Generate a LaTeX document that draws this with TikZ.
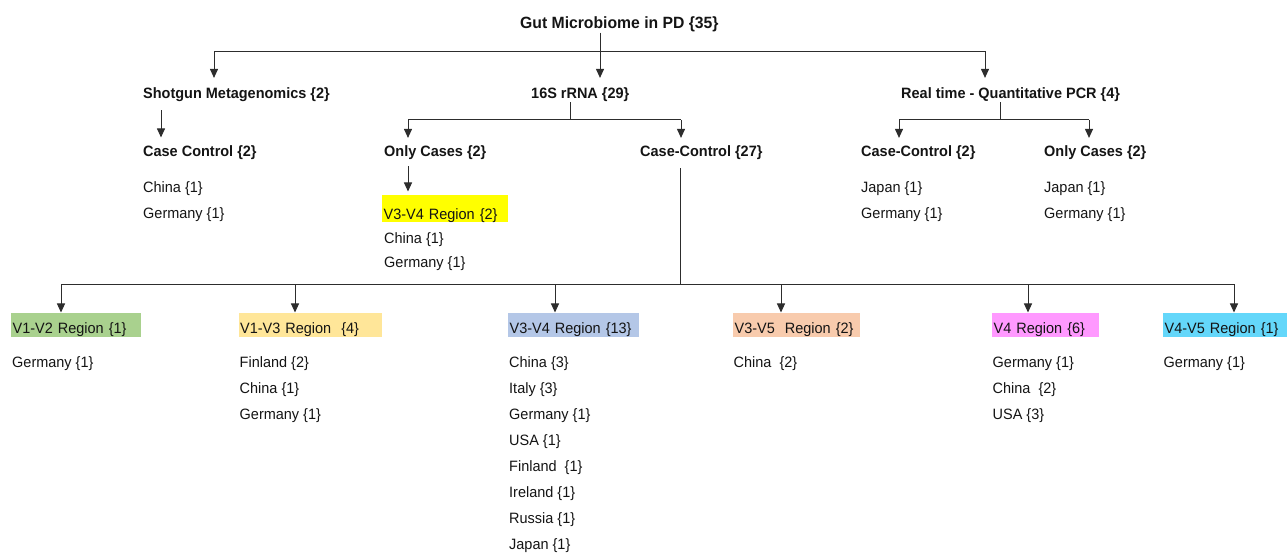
\documentclass[tikz,border=0pt]{standalone}
\usepackage{fontspec}
\setmainfont{Liberation Sans}[FakeStretch=0.965]
\usetikzlibrary{arrows.meta}
\definecolor{cGreen}{RGB}{169,209,142}
\definecolor{cGold}{RGB}{255,230,153}
\definecolor{cBlue}{RGB}{180,199,231}
\definecolor{cPeach}{RGB}{248,203,173}
\definecolor{cPink}{RGB}{255,153,255}
\definecolor{cCyan}{RGB}{100,215,250}
\definecolor{cYellow}{RGB}{255,255,0}
\definecolor{ink}{RGB}{20,20,20}
\definecolor{linec}{RGB}{45,45,45}
\begin{document}
\begin{tikzpicture}[x=1pt,y=-1pt,
  tx/.style={anchor=base west, inner sep=0pt, text=ink, font=\fontsize{15}{18}\selectfont},
  hd/.style={tx, font=\bfseries\fontsize{15}{18}\selectfont},
  ttl/.style={tx, font=\bfseries\fontsize{16.3}{18}\selectfont},
  regbox/.style={anchor=north west, inner xsep=1.5pt, inner ysep=0pt, text height=21pt, text depth=3pt, align=left, text=ink, font=\fontsize{15}{18}\selectfont},
  ln/.style={draw=linec, line width=1pt},
  arr/.style={ln, -{Triangle[length=9pt,width=8pt]}}
]
\useasboundingbox (0,0) rectangle (1288,553);

% ---- level 1
\node[ttl] (title) at (520,29) {Gut Microbiome in PD \{35\}};

% ---- level 2
\node[hd] (shot) at (143,99) {Shotgun Metagenomics \{2\}};
\node[hd] (s16) at (531,99) {16S rRNA \{29\}};
\node[hd] (rt) at (901,99) {Real time - Quantitative PCR \{4\}};

% ---- level 3
\node[hd] (scc) at (143,157) {Case Control \{2\}};
\node[hd] (oc) at (384,157) {Only Cases \{2\}};
\node[hd] (cc27) at (640,157) {Case-Control \{27\}};
\node[hd] (rcc) at (861,157) {Case-Control \{2\}};
\node[hd] (roc) at (1044,157) {Only Cases \{2\}};

\node[tx] (scc1) at (143,193) {China \{1\}};
\node[tx] (scc2) at (143,219) {Germany \{1\}};
\node[tx] (rcc1) at (861,193) {Japan \{1\}};
\node[tx] (rcc2) at (861,219) {Germany \{1\}};
\node[tx] (roc1) at (1044,193) {Japan \{1\}};
\node[tx] (roc2) at (1044,219) {Germany \{1\}};

\node[regbox, fill=cYellow, text width=123pt, text height=25pt, text depth=2pt] (oc34) at (382,194.5) {V3-V4 Region \{2\}};
\node[tx] (oc1) at (384,243.5) {China \{1\}};
\node[tx] (oc2) at (384,268) {Germany \{1\}};

% ---- regions
\node[regbox, fill=cGreen, text width=127pt] (r12) at (11,312.5) {V1-V2 Region \{1\}};
\node[regbox, fill=cGold, text width=140.5pt] (r13) at (238.5,312.5) {V1-V3 Region\ \ \{4\}};
\node[regbox, fill=cBlue, text width=128pt] (r34) at (508,312.5) {V3-V4 Region \{13\}};
\node[regbox, fill=cPeach, text width=124pt] (r35) at (733,312.5) {V3-V5\ \ Region \{2\}};
\node[regbox, fill=cPink, text width=104pt] (r4) at (992,312.5) {V4 Region \{6\}};
\node[regbox, fill=cCyan, text width=121pt] (r45) at (1163,312.5) {V4-V5 Region \{1\}};

\node[tx] (l12-1) at (12,367) {Germany \{1\}};
\foreach \t [count=\i] in {Finland \{2\},China \{1\},Germany \{1\}}
  \node[tx] (l13-\i) at (239.5,{367+26*(\i-1)}) {\t};
\foreach \t [count=\i] in {China \{3\},Italy \{3\},Germany \{1\},USA \{1\},Finland\ \ \{1\},Ireland \{1\},Russia \{1\},Japan \{1\}}
  \node[tx] (l34-\i) at (509,{367+26*(\i-1)}) {\t};
\node[tx] (l35-1) at (733.5,367) {China\ \ \{2\}};
\foreach \t [count=\i] in {Germany \{1\},China\ \ \{2\},USA \{3\}}
  \node[tx] (l4-\i) at (992.5,{367+26*(\i-1)}) {\t};
\node[tx] (l45-1) at (1163.5,367) {Germany \{1\}};

% ---- connectors level 1
\coordinate (j0) at (600,51.5);
\coordinate (jS) at (214,51.5);
\coordinate (jR) at (985,51.5);
\draw[ln] (title.south -| j0) -- (j0);
\draw[ln] (jS) -- (jR);
\draw[arr, shorten >=10pt] (j0) -- (j0 |- s16.north);
\draw[arr, shorten >=10pt] (jS) -- (jS |- shot.north);
\draw[arr, shorten >=10pt] (jR) -- (jR |- rt.north);

% ---- shotgun
\coordinate (xS) at (161,0);
\draw[arr, shorten <=8pt, shorten >=8.5pt] (shot.south -| xS) -- (scc.north -| xS);

% ---- 16S
\coordinate (k0) at (570,120);
\coordinate (kL) at (408,120);
\coordinate (kR) at (681,120);
\draw[ln] (s16.south -| k0) -- (k0);
\draw[ln] (kL) -- (kR);
\draw[arr, shorten >=8pt] (kL) -- (kL |- oc.north);
\draw[arr, shorten >=8pt] (kR) -- (kR |- cc27.north);
\draw[arr, shorten <=6pt, shorten >=3pt] (oc.south -| kL) -- (oc34.north -| kL);

% ---- RT-qPCR
\coordinate (m0) at (1000,120);
\coordinate (mL) at (899,120);
\coordinate (mR) at (1089,120);
\draw[ln] (rt.south -| m0) -- (m0);
\draw[ln] (mL) -- (mR);
\draw[arr, shorten >=8pt] (mL) -- (mL |- rcc.north);
\draw[arr, shorten >=8pt] (mR) -- (mR |- roc.north);

% ---- case-control 27 to regions
\coordinate (n0) at (680,284.5);
\coordinate (n1) at (61,284.5);
\coordinate (n2) at (295,284.5);
\coordinate (n3) at (555,284.5);
\coordinate (n4) at (781,284.5);
\coordinate (n5) at (1028,284.5);
\coordinate (n6) at (1234,284.5);
\draw[ln, shorten <=8pt] (cc27.south -| n0) -- (n0);
\draw[ln] (n1) -- (n6);
\draw[arr] (n1) -- (n1 |- r12.north);
\draw[arr] (n2) -- (n2 |- r13.north);
\draw[arr] (n3) -- (n3 |- r34.north);
\draw[arr] (n4) -- (n4 |- r35.north);
\draw[arr] (n5) -- (n5 |- r4.north);
\draw[arr] (n6) -- (n6 |- r45.north);
\end{tikzpicture}
\end{document}
